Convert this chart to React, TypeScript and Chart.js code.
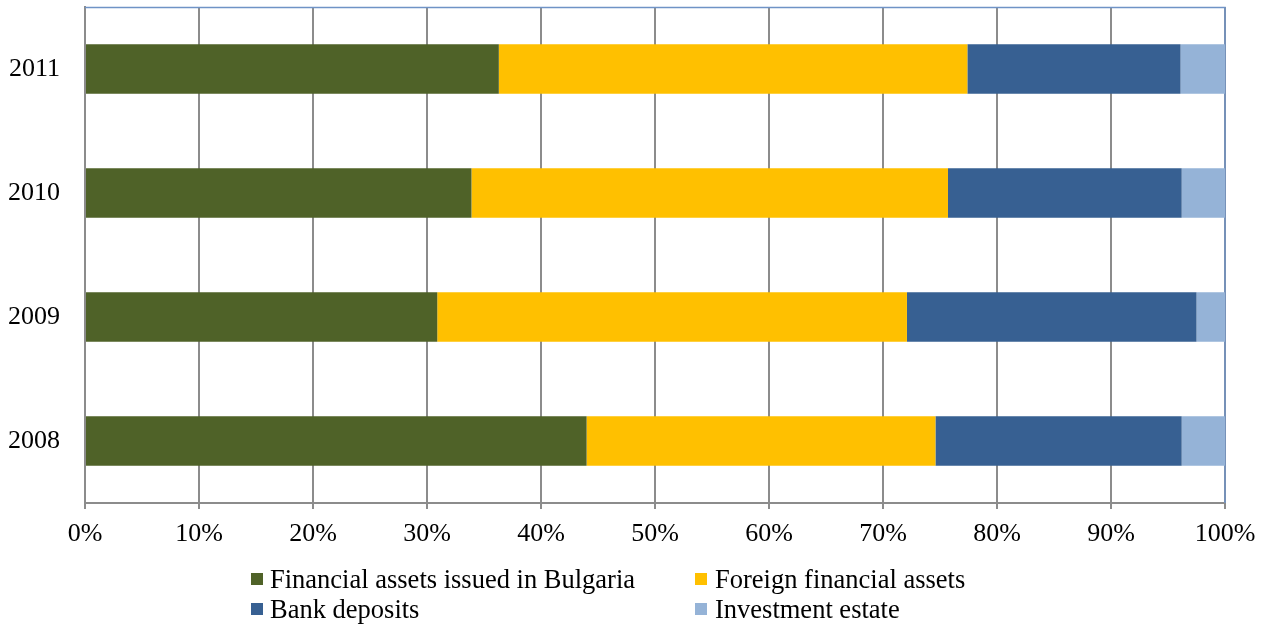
import React, { useEffect, useRef } from "react";
import { Chart, registerables } from "chart.js";

Chart.register(...registerables);

const categories = ["2011", "2010", "2009", "2008"];
const seriesNames = [
  "Financial assets issued in Bulgaria",
  "Foreign financial assets",
  "Bank deposits",
  "Investment estate",
];
const financialBg = [36.3, 33.9, 30.9, 44.0];
const foreignFin = [41.1, 41.8, 41.2, 30.6];
const bankDeposits = [18.7, 20.5, 25.4, 21.6];
const investEstate = [3.9, 3.8, 2.5, 3.8];
const seriesColors = ["#4F6228", "#FFC000", "#376092", "#95B3D7"];
const xTicks = [0, 10, 20, 30, 40, 50, 60, 70, 80, 90, 100];

const FONT = "'Liberation Serif', 'Times New Roman', serif";
const GRID = "#8c8c8c";

const frame = {
  id: "frame",
  beforeDatasetsDraw(chart: any) {
    const { ctx, chartArea } = chart;
    ctx.save();
    ctx.strokeStyle = "#6F93C6";
    ctx.lineWidth = 1.5;
    ctx.beginPath();
    ctx.moveTo(chartArea.left, chartArea.top + 0.5);
    ctx.lineTo(chartArea.right, chartArea.top + 0.5);
    ctx.lineTo(chartArea.right, chartArea.bottom);
    ctx.stroke();
    ctx.restore();
  },
};

export default function App() {
  const ref = useRef<HTMLCanvasElement>(null);
  useEffect(() => {
    document.body.style.margin = "0";
    const values = [financialBg, foreignFin, bankDeposits, investEstate];
    const chart = new Chart(ref.current!, {
      type: "bar",
      data: {
        labels: categories,
        datasets: seriesNames.map((n, i) => ({
          label: n,
          data: values[i],
          backgroundColor: seriesColors[i],
          borderWidth: 0,
          barPercentage: 0.4,
          categoryPercentage: 1,
        })),
      },
      options: {
        indexAxis: "y",
        responsive: false,
        animation: false,
        layout: { padding: { top: 7, right: 38, left: 0, bottom: 0 } },
        plugins: { legend: { display: false }, tooltip: { enabled: false } },
        scales: {
          x: {
            stacked: true,
            min: 0,
            max: 100,
            afterBuildTicks: (s: any) => {
              s.ticks = xTicks.map((v) => ({ value: v }));
            },
            afterFit: (s: any) => {
              s.height = 121;
              s.paddingLeft = 0;
              s.paddingRight = 0;
            },
            ticks: {
              callback: (v: any) => v + "%",
              color: "#000",
              font: { family: FONT, size: 26 },
              padding: 10,
              maxRotation: 0,
              autoSkip: false,
            },
            grid: {
              color: GRID,
              lineWidth: 2,
              drawTicks: true,
              tickLength: 6,
              tickColor: GRID,
            },
            border: { display: true, color: GRID, width: 2 },
          },
          y: {
            stacked: true,
            afterFit: (s: any) => {
              s.width = 85;
              s.paddingTop = 0;
              s.paddingBottom = 0;
            },
            ticks: {
              color: "#000",
              font: { family: FONT, size: 26 },
              padding: 25,
            },
            grid: { display: false, drawTicks: false },
            border: { display: true, color: GRID, width: 2 },
          },
        },
      },
      plugins: [frame],
    });
    return () => chart.destroy();
  }, []);

  const legendPos = [
    { mx: 251, my: 573, tx: 270, ty: 564 },
    { mx: 695, my: 573, tx: 715, ty: 564 },
    { mx: 251, my: 603, tx: 270, ty: 594 },
    { mx: 695, my: 603, tx: 715, ty: 594 },
  ];

  return (
    <div style={{ position: "absolute", left: 0, top: 0, width: 1263, height: 624 }}>
      <canvas ref={ref} width={1263} height={624} style={{ width: 1263, height: 624, display: "block" }} />
      {seriesNames.map((n, i) => (
        <React.Fragment key={n}>
          <div
            style={{
              position: "absolute",
              left: legendPos[i].mx,
              top: legendPos[i].my,
              width: 12,
              height: 12,
              background: seriesColors[i],
            }}
          />
          <div
            style={{
              position: "absolute",
              left: legendPos[i].tx,
              top: legendPos[i].ty,
              fontFamily: FONT,
              fontSize: 26.5,
              lineHeight: "30px",
              color: "#000",
              whiteSpace: "nowrap",
            }}
          >
            {n}
          </div>
        </React.Fragment>
      ))}
    </div>
  );
}
